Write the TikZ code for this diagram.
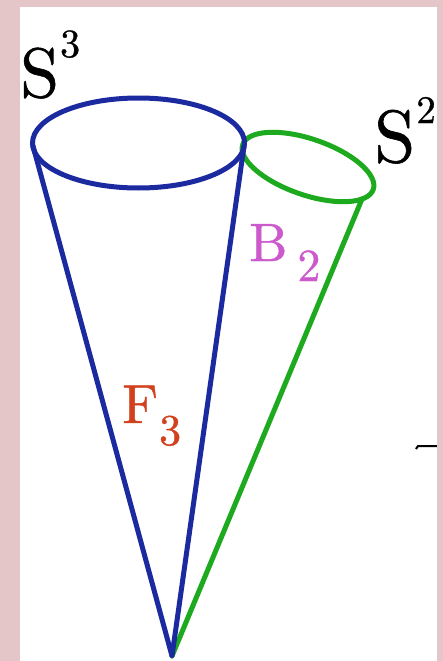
\documentclass[tikz,border=0pt]{standalone}
\usepackage{fontspec}
\newfontfamily\tms[FakeBold=0.8]{lmroman10-regular.otf}
\definecolor{bgpink}{RGB}{228,198,200}
\definecolor{coneblue}{RGB}{28,42,160}
\definecolor{conegreen}{RGB}{30,170,30}
\definecolor{bmag}{RGB}{205,90,205}
\definecolor{fred}{RGB}{210,65,30}
\begin{document}
\begin{tikzpicture}[x=1pt,y=-1pt,
  blueline/.style={draw=coneblue,line width=5pt,line join=round,line cap=round},
  greenline/.style={draw=conegreen,line width=5pt,line join=round,line cap=round},
  lbl/.style={inner sep=0pt,anchor=base west,font=\tms}]
\useasboundingbox (0,0) rectangle (443,661);
\fill[bgpink] (0,0) rectangle (443,661);
\fill[white] (20,7) rectangle (437,661);
% named points
\coordinate (apex) at (172,656);
\coordinate (bl) at (33,146);
\coordinate (br) at (244,146);
\coordinate (gr) at (362,199);
% green cone
\draw[greenline,rotate around={-19:(308,167)}] (308,167) ellipse [x radius=69, y radius=28];
\draw[greenline] (gr) -- (apex);
% blue cone
\draw[blueline] (138.5,143) ellipse [x radius=106, y radius=45];
\draw[blueline] (bl) -- (apex) -- (br);
% labels
\node[lbl] (s3) at (20,97) {\fontsize{70}{72}\selectfont S\kern1pt\raisebox{40pt}{\fontsize{40}{42}\selectfont 3}};
\node[lbl] (s2) at (374,162) {\fontsize{74}{76}\selectfont S\kern1pt\raisebox{39pt}{\fontsize{39}{41}\selectfont 2}};
\node[lbl,text=bmag] (b2) at (249,261) {\fontsize{54}{56}\selectfont B\kern10pt\raisebox{-20pt}{\fontsize{46}{48}\selectfont 2}};
\node[lbl,text=fred] (f3) at (122,423) {\fontsize{55}{57}\selectfont F\kern1pt\raisebox{-22pt}{\fontsize{44}{46}\selectfont 3}};
% small tick at right
\coordinate (t1) at (416,449);
\coordinate (t2) at (418,446);
\coordinate (t3) at (437,446);
\draw[line width=2pt] (t1) -- (t2) -- (t3);
% right border strip over clipped text
\fill[bgpink] (437,0) rectangle (443,661);
\end{tikzpicture}
\end{document}
